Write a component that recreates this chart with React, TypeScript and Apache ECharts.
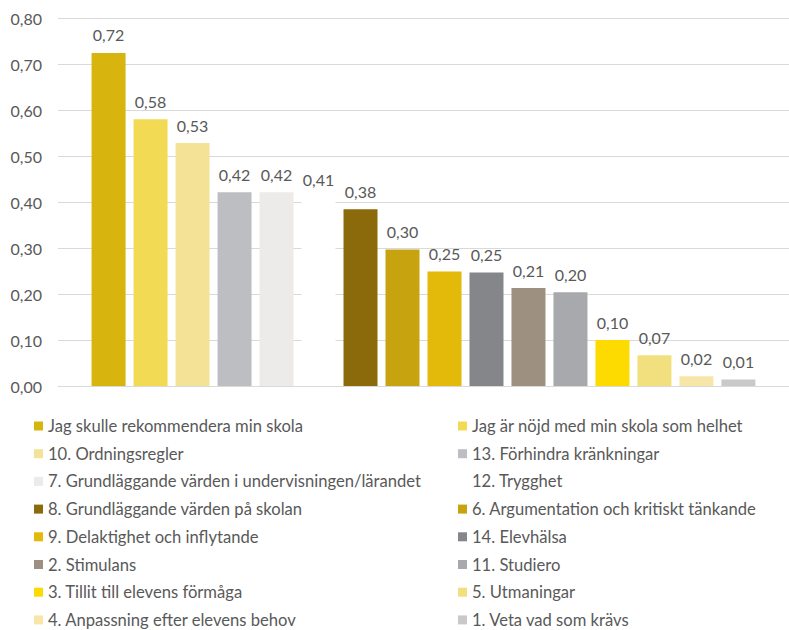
import React, { useEffect, useRef } from "react";
import * as echarts from "echarts";

const seriesNames = [
  "Jag skulle rekommendera min skola",
  "Jag är nöjd med min skola som helhet",
  "10. Ordningsregler",
  "13. Förhindra kränkningar",
  "7. Grundläggande värden i undervisningen/lärandet",
  "12. Trygghet",
  "8. Grundläggande värden på skolan",
  "6. Argumentation och kritiskt tänkande",
  "9. Delaktighet och inflytande",
  "14. Elevhälsa",
  "2. Stimulans",
  "11. Studiero",
  "3. Tillit till elevens förmåga",
  "5. Utmaningar",
  "4. Anpassning efter elevens behov",
  "1. Veta vad som krävs",
];

const seriesValues = [
  0.724, 0.58, 0.528, 0.421, 0.421, 0.41, 0.384, 0.297, 0.249, 0.247, 0.213,
  0.204, 0.1, 0.067, 0.021, 0.014,
];

const seriesColors = [
  "#D8B40E",
  "#F2DA55",
  "#F4E396",
  "#BDBEC1",
  "#ECEBE9",
  "#FFFFFF",
  "#8A6A0B",
  "#C6A30F",
  "#E3B90A",
  "#858689",
  "#9E9080",
  "#A8A9AC",
  "#FDDA00",
  "#F2E07F",
  "#F7E6A8",
  "#C9C9C9",
];

const categories = [""];

const fmt = (v: number) => v.toFixed(2).replace(".", ",");

export default function App() {
  const ref = useRef<HTMLDivElement>(null);
  useEffect(() => {
    if (!ref.current) return;
    const chart = echarts.init(ref.current, undefined, { renderer: "svg" });
    const font = "Lato, 'Open Sans', sans-serif";
    const legendCommon = {
      orient: "vertical" as const,
      icon: "rect",
      itemWidth: 9,
      itemHeight: 9,
      itemGap: 9.7,
      top: 412,
      height: 240,
      selectedMode: false,
      textStyle: { color: "#595959", fontSize: 16.6, fontFamily: font, lineHeight: 18 },
    };
    chart.setOption({
      animation: false,
      textStyle: { fontFamily: font },
      grid: { left: 58, top: 18, width: 742, height: 368, containLabel: false },
      legend: [
        { ...legendCommon, left: 29, data: seriesNames.filter((_, i) => i % 2 === 0) },
        { ...legendCommon, left: 453, data: seriesNames.filter((_, i) => i % 2 === 1) },
      ],
      xAxis: {
        type: "category",
        data: categories,
        axisLine: { lineStyle: { color: "#D9D9D9", width: 1 } },
        axisTick: { show: false },
        axisLabel: { show: false },
      },
      yAxis: {
        type: "value",
        min: 0,
        max: 0.8,
        interval: 0.1,
        axisLine: { show: false },
        axisTick: { show: false },
        axisLabel: {
          color: "#595959",
          fontSize: 16,
          fontFamily: font,
          margin: 16,
          formatter: (v: number) => fmt(v),
        },
        splitLine: { lineStyle: { color: "#D9D9D9", width: 1 } },
      },
      series: seriesNames.map((name, i) => ({
        name,
        type: "bar",
        data: [seriesValues[i]],
        barWidth: 34,
        barGap: "23.5%",
        itemStyle: { color: seriesColors[i] },
        label: {
          show: true,
          position: "top",
          distance: 10,
          color: "#595959",
          fontSize: 16,
          fontFamily: font,
          formatter: (p: any) => fmt(p.value),
        },
      })),
    });
    return () => chart.dispose();
  }, []);
  return (
    <div
      ref={ref}
      style={{ position: "fixed", left: 0, top: 0, width: 789, height: 630, background: "#fff" }}
    />
  );
}
